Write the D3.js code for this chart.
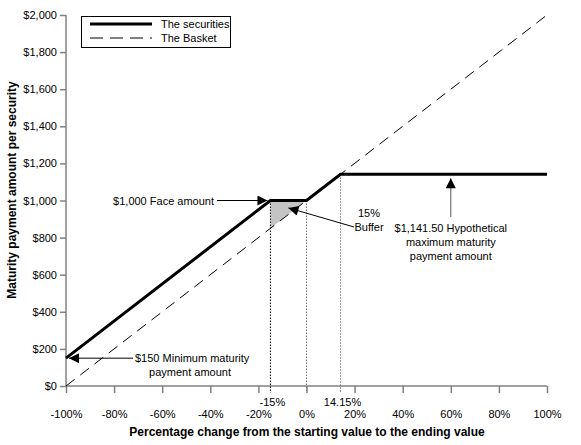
<!DOCTYPE html>
<html>
<head>
<meta charset="utf-8">
<script src="https://cdn.jsdelivr.net/npm/d3@7"></script>
<style>
  body { margin: 0; background: #fff; }
  text { font-family: "Liberation Sans", Arial, sans-serif; fill: #000; }
</style>
</head>
<body>
<div id="chart"></div>
<script>
// payoff data
const securityX = [-100, -15, 0, 14.15, 100];
const securityY = [150, 1000, 1000, 1141.5, 1141.5];
const basketX = [-100, 100];
const basketY = [0, 2000];
const xTicks = [-100, -80, -60, -40, -20, 0, 20, 40, 60, 80, 100];
const yTicks = [0, 200, 400, 600, 800, 1000, 1200, 1400, 1600, 1800, 2000];
const markerX = [-15, 0, 14.15];
const markerY = [1000, 1000, 1141.5];
const markerLabels = ["-15%", "", "14.15%"];
const bufferX = [-15, 0, -15];
const bufferY = [1000, 1000, 850];
const legendNames = ["The securities", "The Basket"];

let width = 581;
let height = 445;

let svg = d3.select("#chart")
  .append("svg")
  .attr("width", width)
  .attr("height", height);

let x = d3.scaleLinear().domain([-100, 100]).range([66, 547]);
let y = d3.scaleLinear().domain([0, 2000]).range([386, 15]);

// arrow head
svg.append("defs").append("marker")
  .attr("id", "arrow")
  .attr("viewBox", "0 0 10 10")
  .attr("refX", 10)
  .attr("refY", 5)
  .attr("markerWidth", 14)
  .attr("markerHeight", 10)
  .attr("markerUnits", "userSpaceOnUse")
  .attr("orient", "auto")
  .append("path")
  .attr("d", "M0,0 L10,5 L0,10 Z")
  .attr("fill", "#000");

// axes
let xAxis = svg.append("g")
  .attr("transform", "translate(0," + y(0) + ")")
  .call(d3.axisBottom(x).tickValues(xTicks).tickSize(7).tickPadding(17)
    .tickFormat(function(d) { return d + "%"; }));

let yAxis = svg.append("g")
  .attr("transform", "translate(" + x(-100) + ",0)")
  .call(d3.axisLeft(y).tickValues(yTicks).tickSize(6).tickPadding(3)
    .tickFormat(function(d) { return "$" + d3.format(",")(d); }));

[xAxis, yAxis].forEach(function(a) {
  a.select(".domain").attr("stroke", "#808080").attr("stroke-width", 1.5);
  a.selectAll(".tick line").attr("stroke", "#808080").attr("stroke-width", 1.5);
  a.selectAll(".tick text").style("font-size", "11px").attr("font-family", null);
});
xAxis.select(".domain").attr("d", "M" + x(-100) + ",0H" + x(100));
yAxis.select(".domain").attr("d", "M0," + y(0) + "V" + y(2000));

// buffer triangle
svg.append("path")
  .datum(d3.range(bufferX.length))
  .attr("d", d3.line()
    .x(function(i) { return x(bufferX[i]); })
    .y(function(i) { return y(bufferY[i]); }).curve(d3.curveLinearClosed))
  .attr("fill", "#c4c4c4")
  .attr("stroke", "none");

// dotted drop lines
svg.selectAll(".drop")
  .data(markerX)
  .enter()
  .append("line")
  .attr("x1", function(d) { return x(d); })
  .attr("x2", function(d) { return x(d); })
  .attr("y1", function(d, i) { return y(markerY[i]); })
  .attr("y2", y(0) + 7)
  .attr("stroke", function(d, i) { return i === 0 ? "#000" : "#777"; })
  .attr("stroke-width", 1)
  .attr("stroke-dasharray", "1.5,1.5");

svg.selectAll(".drop-label")
  .data(markerX)
  .enter()
  .append("text")
  .attr("x", function(d) { return x(d) + 2; })
  .attr("y", y(0) + 20)
  .attr("text-anchor", "middle")
  .style("font-size", "11px")
  .text(function(d, i) { return markerLabels[i]; });

// basket line
svg.append("path")
  .datum(d3.range(basketX.length))
  .attr("d", d3.line()
    .x(function(i) { return x(basketX[i]); })
    .y(function(i) { return y(basketY[i]); }))
  .attr("fill", "none")
  .attr("stroke", "#000")
  .attr("stroke-width", 1)
  .attr("stroke-dasharray", "11,7");

// securities line
svg.append("path")
  .datum(d3.range(securityX.length))
  .attr("d", d3.line()
    .x(function(i) { return x(securityX[i]); })
    .y(function(i) { return y(securityY[i]); }))
  .attr("fill", "none")
  .attr("stroke", "#000")
  .attr("stroke-width", 3)
  .attr("stroke-linejoin", "miter");

// annotations
function arrow(x1, y1, x2, y2, color) {
  svg.append("line")
    .attr("x1", x1).attr("y1", y1)
    .attr("x2", x2).attr("y2", y2)
    .attr("stroke", color || "#000")
    .attr("stroke-width", 1)
    .attr("marker-end", "url(#arrow)");
}

function label(lines, lx, ly, anchor) {
  let t = svg.append("text")
    .attr("x", lx)
    .attr("y", ly)
    .attr("text-anchor", anchor)
    .style("font-size", "11px");
  lines.forEach(function(s, i) {
    t.append("tspan").attr("x", lx).attr("dy", i === 0 ? 0 : 14).text(s);
  });
}

// $1,000 face amount
arrow(217, y(1000), x(-15) - 3, y(1000));
label(["$1,000 Face amount"], 214, y(1000) + 4, "end");

// 15% buffer
arrow(354, 227, x(-7.5), y(960));
label(["15%", "Buffer"], 369, 217, "middle");

// maximum payment
arrow(x(60), 217, x(60), y(1141.5) + 4, "#555");
label(["$1,141.50 Hypothetical", "maximum maturity", "payment amount"], x(60), 232, "middle");

// minimum payment
arrow(133, y(150), x(-100) + 3, y(150));
label(["$150 Minimum maturity"], 135, y(150) + 4, "start");
label(["payment amount"], 190, y(150) + 18, "middle");

// legend
let legend = svg.append("g");
legend.append("rect")
  .attr("x", 81.5).attr("y", 16.5)
  .attr("width", 149).attr("height", 31)
  .attr("fill", "#fff")
  .attr("stroke", "#000")
  .attr("stroke-width", 1);
legend.selectAll(".leg-line")
  .data(legendNames)
  .enter()
  .append("line")
  .attr("x1", 90).attr("x2", 152)
  .attr("y1", function(d, i) { return 24 + i * 14; })
  .attr("y2", function(d, i) { return 24 + i * 14; })
  .attr("stroke", "#000")
  .attr("stroke-width", function(d, i) { return i === 0 ? 3 : 1; })
  .attr("stroke-dasharray", function(d, i) { return i === 0 ? null : "13,7"; });
legend.selectAll(".leg-text")
  .data(legendNames)
  .enter()
  .append("text")
  .attr("x", 161)
  .attr("y", function(d, i) { return 28 + i * 14; })
  .style("font-size", "11px")
  .text(function(d) { return d; });

// axis titles
svg.append("text")
  .attr("x", 307)
  .attr("y", 436)
  .attr("text-anchor", "middle")
  .style("font-size", "12px")
  .style("font-weight", "bold")
  .text("Percentage change from the starting value to the ending value");

svg.append("text")
  .attr("transform", "translate(16,190) rotate(-90)")
  .attr("text-anchor", "middle")
  .style("font-size", "12px")
  .style("font-weight", "bold")
  .text("Maturity payment amount per security");
</script>
</body>
</html>
